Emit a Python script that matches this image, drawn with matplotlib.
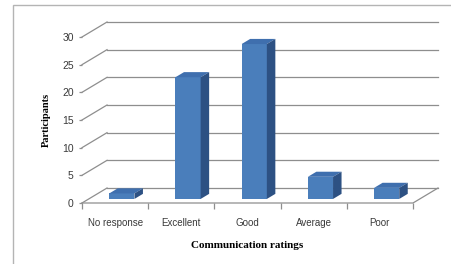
import matplotlib
matplotlib.use('Agg')
import matplotlib.pyplot as plt
from matplotlib.patches import Polygon, Rectangle

categories = ['No response', 'Excellent', 'Good', 'Average', 'Poor']
participants = [1, 22, 28, 4, 2]
y_ticks = [0, 5, 10, 15, 20, 25, 30]

FRONT = '#4a7ebb'
TOP = '#3f6fae'
SIDE = '#2d5183'
GRID = '#8e8e8e'

# fake 3d: depth offset of the full floor, in data units
DX, DY = 0.378, 2.71
BAR_D0, BAR_D = 0.27, 0.34      # bar start depth and bar depth (fraction)
BAR_W = 0.38

def proj(x, y, d):
    return (x + d * DX, y + d * DY)

fig = plt.figure(figsize=(4.51, 2.64), dpi=100)
fig.patches.append(Rectangle((13/451, -0.1), 1.2, 1 - 5/264 + 0.1,
                             transform=fig.transFigure, fill=False,
                             edgecolor='#b4b4b4', linewidth=1))

ax = fig.add_axes([82/451, 1 - 203/264, (413-82)/451, (203-37)/264])
ax.set_xlim(0, len(categories))
ax.set_ylim(0, 30)
for s in ax.spines.values():
    s.set_visible(False)

# walls and floor
n = len(categories)
for v in y_ticks:
    x0, y0 = proj(0, v, 1)
    x1, y1 = proj(n, v, 1)
    ax.plot([x0, x1], [y0, y1], color=GRID, lw=0.9, clip_on=False, zorder=1)
    fx, fy = proj(0, v, 0)
    ax.plot([fx, x0], [fy, y0], color=GRID, lw=0.9, clip_on=False, zorder=1)
fl = [proj(0, 0, 0), proj(n, 0, 0), proj(n, 0, 1)]
ax.plot([p[0] for p in fl], [p[1] for p in fl], color=GRID, lw=0.9,
        clip_on=False, zorder=1)

# bars
xs = [i + 0.5 + BAR_D0 * DX for i in range(n)]
base = BAR_D0 * DY
ax.bar(xs, participants, width=BAR_W, bottom=base, color=FRONT,
       edgecolor='none', zorder=3, clip_on=False)
ddx, ddy = BAR_D * DX, BAR_D * DY
for x, v in zip(xs, participants):
    l, r, top = x - BAR_W/2, x + BAR_W/2, base + v
    ax.add_patch(Polygon([(l, top), (r, top), (r+ddx, top+ddy), (l+ddx, top+ddy)],
                         closed=True, facecolor=TOP, edgecolor='none',
                         zorder=3, clip_on=False))
    ax.add_patch(Polygon([(r, base), (r, top), (r+ddx, top+ddy), (r+ddx, base+ddy)],
                         closed=True, facecolor=SIDE, edgecolor='none',
                         zorder=3, clip_on=False))

ax.set_xticks(range(n + 1))
ax.set_xticklabels([])
ax.set_xticks([i + 0.5 for i in range(n)], minor=True)
ax.set_xticklabels(categories, minor=True, fontsize=7, color='#3a3a3a',
                   family='Liberation Sans')
ax.tick_params(axis='x', which='major', length=4, color=GRID, width=0.9)
ax.tick_params(axis='x', which='minor', length=0, pad=10.5)
ax.set_yticks(y_ticks)
ax.set_yticklabels([str(v) for v in y_ticks], fontsize=7.5, color='#3a3a3a',
                   family='Liberation Sans')
ax.tick_params(axis='y', length=2, color=GRID, width=0.9, pad=4)

ax.set_ylabel('Participants', fontsize=7.5, fontweight='bold',
              family='Liberation Serif', labelpad=8)
ax.set_xlabel('Communication ratings', fontsize=8, fontweight='bold',
              family='Liberation Serif', labelpad=10)

fig.savefig('out.png', dpi=100)
